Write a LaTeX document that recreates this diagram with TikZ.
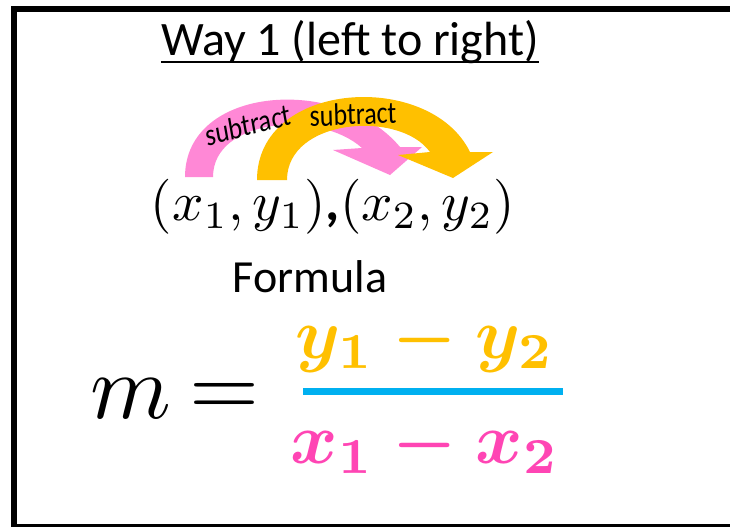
\documentclass[tikz,border=0pt]{standalone}
\usepackage{fontspec}
\newfontfamily\calfont{Carlito}
\definecolor{pinkarrow}{HTML}{FF88D6}
\definecolor{gold}{HTML}{FFC000}
\definecolor{pinktext}{HTML}{FF45B4}
\definecolor{barblue}{HTML}{00B0F0}
\tikzset{
  subtxt/.style={font=\calfont\fontsize{26}{28}\selectfont, inner sep=0pt, yscale=1.2},
  bigmath/.style={anchor=base, inner sep=0pt},
  framebar/.style={fill=black, draw=none}
}
\begin{document}
\begin{tikzpicture}[x=1pt,y=-1pt]
\useasboundingbox (0,0) rectangle (730,528);
\fill[white] (0,0) rectangle (730,528);
% frame
\path[framebar] (11,6) rectangle (17,527);
\path[framebar] (11,6) rectangle (730,12);
\path[framebar] (11,524) rectangle (730,527);
% title
\node[anchor=base, inner sep=0pt, font=\calfont\fontsize{48}{52}\selectfont] (title) at (350,55) {Way 1 (left to right)};
\draw[line width=2.5pt] ([yshift=-7pt]title.base west) -- ([yshift=-7pt]title.base east);
% arrows
\fill[pinkarrow] (185,177) .. controls (185,85) and (340,75) .. (400,147) -- (422,147) -- (390,175) -- (333,150) -- (362,148) .. controls (320,110) and (213,118) .. (213,177) -- cycle;
\fill[gold] (257,180) .. controls (257,80) and (430,70) .. (470,152) -- (493,152) -- (453,178) -- (398,155) -- (430,152) .. controls (400,110) and (287,118) .. (287,180) -- cycle;
\node[subtxt, rotate=12] (s1) at (248,125) {subtract};
\node[subtxt, rotate=2] (s2) at (353,114) {subtract};
% points
\node[bigmath] (pts) at (333,220) {\scalebox{5.5}{$(x_1,y_1)$\hbox{\calfont\bfseries,}$(x_2,y_2)$}};
% Formula
\node[anchor=base, inner sep=0pt, font=\calfont\fontsize{46}{50}\selectfont] (formula) at (310,292) {Formula};
% m =
\node[bigmath] (m) at (131,418) {\scalebox{9.2}{$m$}};
\node[bigmath] (eq) at (224,416) {\scalebox{9}{$=$}};
% fraction
\node[bigmath, text=gold] (num) at (425,358) {\scalebox{7.2}{\boldmath$y_1 - y_2$}};
\node[bigmath, text=pinktext] (den) at (425,463) {\scalebox{7.2}{\boldmath$x_1 - x_2$}};
\draw[barblue, line width=7pt] (303,391) -- (563,391);
\end{tikzpicture}
\end{document}
